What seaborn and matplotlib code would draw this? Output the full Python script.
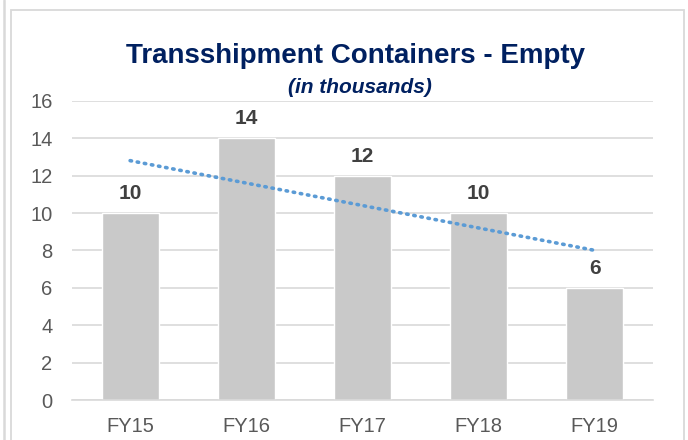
import matplotlib.pyplot as plt
import numpy as np
import pandas as pd
import seaborn as sns
from matplotlib.lines import Line2D
from matplotlib.patches import Rectangle

years = ["FY15", "FY16", "FY17", "FY18", "FY19"]
empty_k = [10, 14, 12, 10, 6]

navy = "#002060"
grid_gray = "#D9D9D9"
bar_gray = "#C9C9C9"
text_gray = "#595959"
label_gray = "#404040"
trend_blue = "#5B9BD5"

sns.set_theme(style="white")
plt.rcParams["font.family"] = ["Liberation Sans", "DejaVu Sans"]

df = pd.DataFrame({"year": years, "value": empty_k})
df["pos"] = np.arange(len(df))

fig = plt.figure(figsize=(6.88, 4.40), dpi=100)
ax = fig.add_axes([0.1047, 0.0909, 0.8443, 0.680])

sns.barplot(data=df, x="year", y="value", color=bar_gray, saturation=1,
            width=0.49, ax=ax, zorder=2)
# linear trendline over the bars
sns.regplot(data=df, x="pos", y="value", ci=None, scatter=False, ax=ax,
            line_kws=dict(color=trend_blue, lw=2.6, ls=(0, (0.4, 1.6)),
                          dash_capstyle="round", zorder=3))

for p, v in zip(df["pos"], df["value"]):
    ax.annotate(f"{v}", (p, v), xytext=(0, 7), textcoords="offset points",
                ha="center", va="bottom", fontsize=15,
                fontweight="bold", color=label_gray)

ax.set_ylim(0, 16)
ax.set_xlim(-0.5, 4.5)
ax.set_yticks(range(0, 17, 2))
ax.yaxis.grid(True, color=grid_gray, lw=1.2, zorder=0)
ax.set_axisbelow(True)
for s in ["top", "right", "left"]:
    ax.spines[s].set_visible(False)
ax.spines["bottom"].set_color(grid_gray)
ax.spines["bottom"].set_linewidth(1.2)
ax.tick_params(axis="both", length=0, labelsize=14.5, labelcolor=text_gray)
ax.tick_params(axis="x", pad=12)
ax.tick_params(axis="y", pad=14)
ax.set_xlabel("")
ax.set_ylabel("")

fig.text(0.517, 0.873, "Transshipment Containers - Empty", ha="center",
         va="center", fontsize=20, fontweight="bold", color=navy)
fig.text(0.523, 0.802, "(in thousands)", ha="center", va="center",
         fontsize=15, fontweight="bold", fontstyle="italic", color=navy)

# chart frame
fig.add_artist(Rectangle((11.5 / 688, -0.1), (684 - 11.5) / 688, 1.1 - 10.5 / 440,
                         transform=fig.transFigure, fill=False,
                         edgecolor=grid_gray, lw=1.3))
fig.add_artist(Line2D([4 / 688, 4 / 688], [0, 1], transform=fig.transFigure,
                      color=grid_gray, lw=1.8))

fig.savefig("out.png", dpi=100)
